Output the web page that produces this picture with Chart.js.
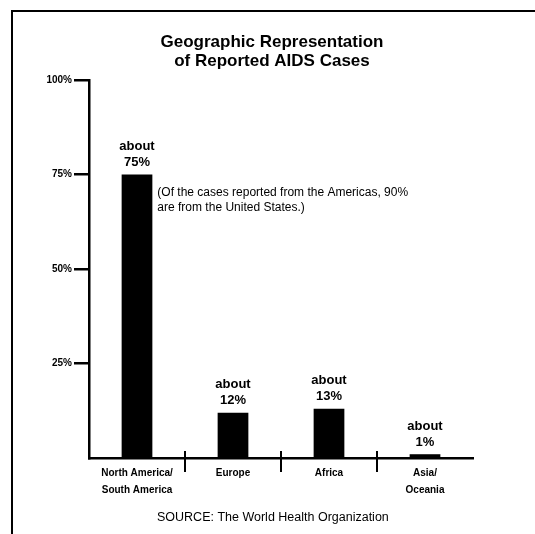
<!DOCTYPE html>
<html>
<head>
<meta charset="utf-8">
<script src="https://cdn.jsdelivr.net/npm/chart.js@4"></script>
<style>
  html, body { margin: 0; padding: 0; background: #fff; }
</style>
</head>
<body>
<canvas id="chart" width="535" height="534"></canvas>
<script>
const regions = [["North America/", "South America"], "Europe", "Africa", ["Asia/", "Oceania"]];
const shares = [75, 12, 13, 1];
const shareLabels = ["75%", "12%", "13%", "1%"];
const yTicks = [25, 50, 75, 100];
const titleLines = ["Geographic Representation", "of Reported AIDS Cases"];
const noteLines = ["(Of the cases reported from the Americas, 90%", "are from the United States.)"];
const sourceText = "SOURCE: The World Health Organization";

const ink = "#000";
const face = "'Liberation Sans', Arial, sans-serif";

const decorations = {
    id: "decorations",
    afterDraw(chart) {
        const ctx = chart.ctx;
        const area = chart.chartArea;
        const bars = chart.getDatasetMeta(0).data;
        ctx.save();
        ctx.fillStyle = ink;
        ctx.strokeStyle = ink;

        // page frame
        ctx.lineWidth = 2;
        ctx.beginPath();
        ctx.moveTo(12, 534);
        ctx.lineTo(12, 11);
        ctx.lineTo(535, 11);
        ctx.stroke();

        // title
        ctx.textAlign = "center";
        ctx.textBaseline = "middle";
        ctx.font = "bold 17px " + face;
        titleLines.forEach((line, i) => ctx.fillText(line, 272, 42 + i * 19));

        // category separators across the axis
        ctx.lineWidth = 2;
        for (let i = 0; i < bars.length - 1; i++) {
            const x = (bars[i].x + bars[i + 1].x) / 2;
            ctx.beginPath();
            ctx.moveTo(x, area.bottom - 7);
            ctx.lineTo(x, area.bottom + 14);
            ctx.stroke();
        }

        // value labels
        ctx.font = "bold 13px " + face;
        bars.forEach((bar, i) => {
            ctx.fillText("about", bar.x, bar.y - 28);
            ctx.fillText(shareLabels[i], bar.x, bar.y - 12);
        });

        // note beside the first bar
        ctx.textAlign = "left";
        ctx.font = "12px " + face;
        const first = bars[0];
        noteLines.forEach((line, i) => ctx.fillText(line, first.x + first.width / 2 + 5, first.y + 18 + i * 15));

        // source
        ctx.font = "12.5px " + face;
        ctx.fillText(sourceText, 157, 518);
        ctx.restore();
    }
};

new Chart(document.getElementById("chart"), {
    type: "bar",
    data: {
        labels: regions,
        datasets: [{
            data: shares,
            backgroundColor: ink,
            borderWidth: 0,
            barPercentage: 0.32,
            categoryPercentage: 1
        }]
    },
    options: {
        responsive: false,
        animation: false,
        layout: { padding: { top: 80, right: 62, bottom: 0, left: 0 } },
        plugins: {
            legend: { display: false },
            title: { display: false },
            tooltip: { enabled: false }
        },
        scales: {
            y: {
                min: 0,
                max: 100,
                afterBuildTicks: s => { s.ticks = yTicks.map(v => ({ value: v })); },
                afterFit: s => { s.width = 89; },
                border: { color: ink, width: 2.5 },
                grid: { drawOnChartArea: false, color: ink, lineWidth: 2.5, tickLength: 15 },
                ticks: {
                    color: ink,
                    padding: 2,
                    font: { family: face, size: 10, weight: "bold" },
                    callback: v => v + "%"
                }
            },
            x: {
                offset: true,
                afterFit: s => { s.height = 76; },
                border: { color: ink, width: 2.5 },
                grid: { display: false, drawTicks: false },
                ticks: {
                    color: ink,
                    padding: 7,
                    maxRotation: 0,
                    font: { family: face, size: 10, weight: "bold", lineHeight: 1.7 }
                }
            }
        }
    },
    plugins: [decorations]
});
</script>
</body>
</html>
